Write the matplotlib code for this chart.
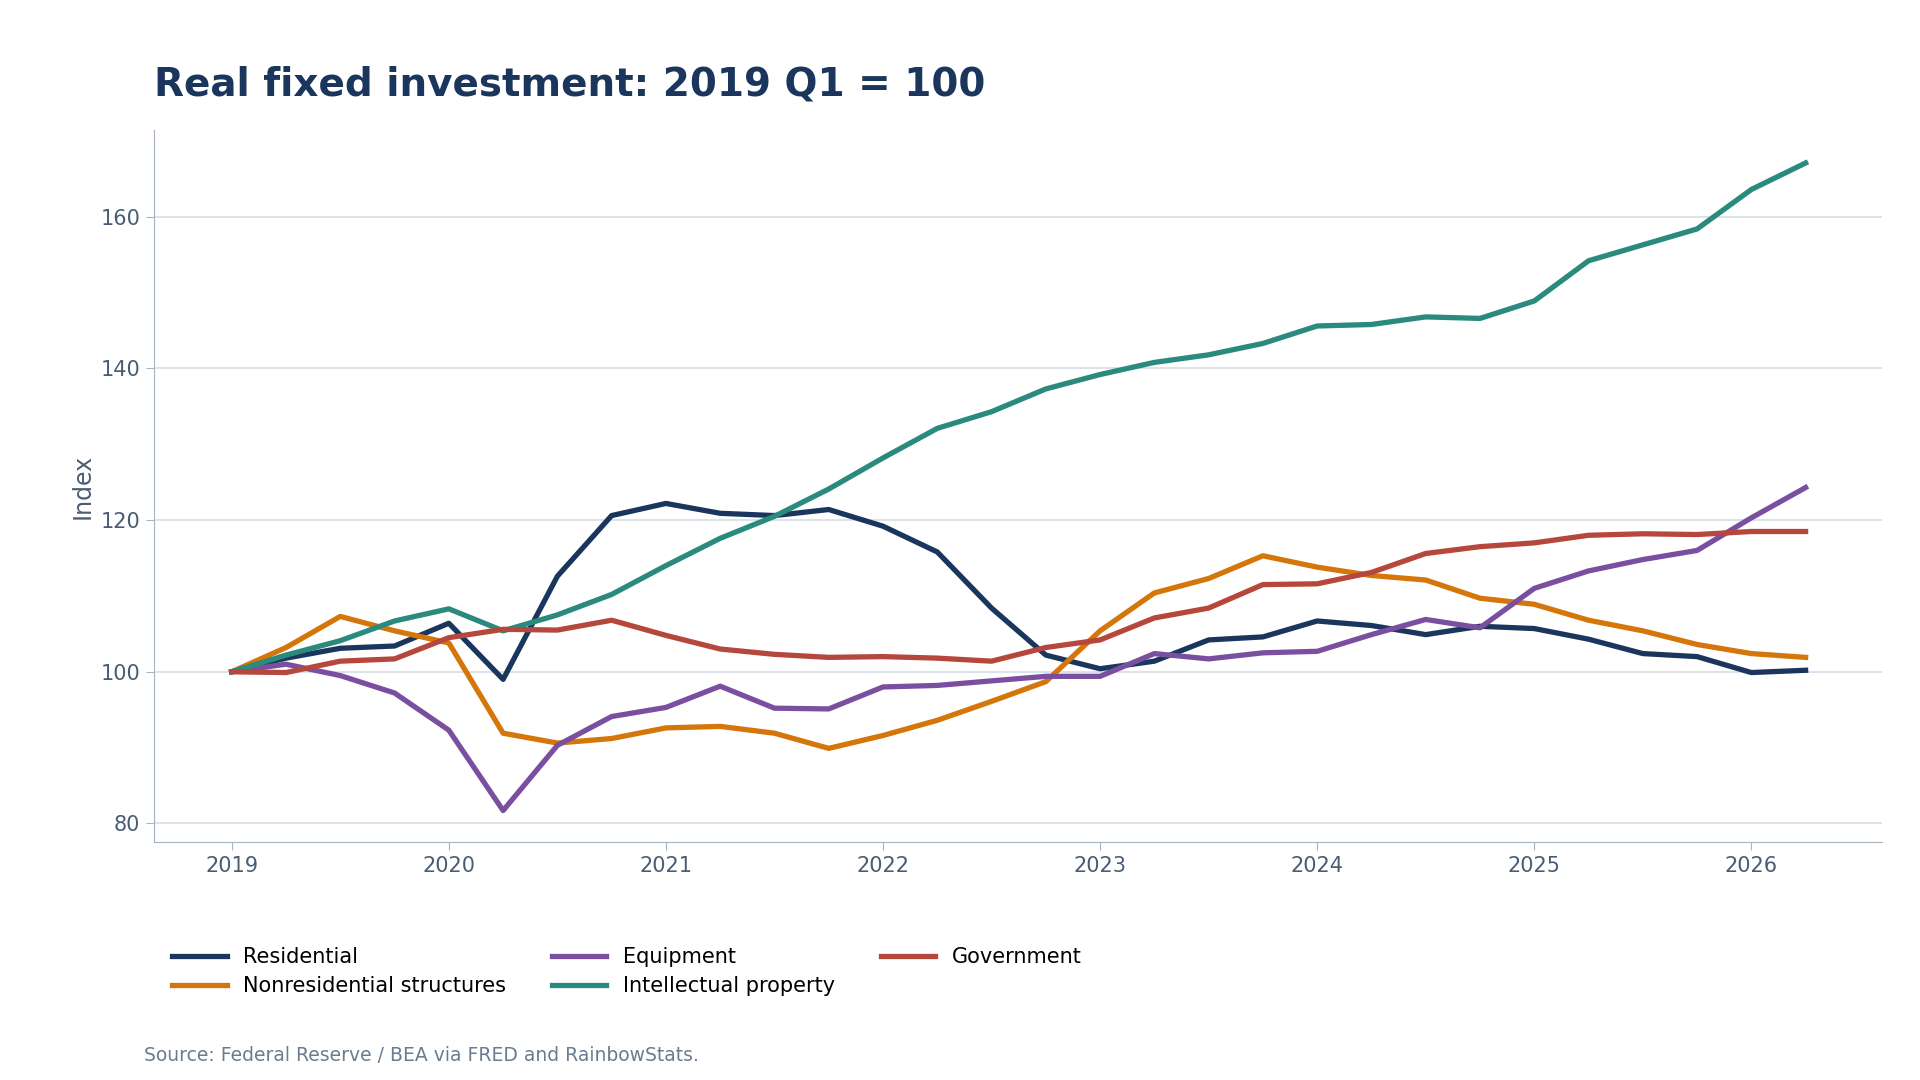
import matplotlib
matplotlib.use("Agg")
import matplotlib.pyplot as plt
import numpy as np

years = [2019 + i * 0.25 for i in range(30)]
residential = [100, 101.8, 103.1, 103.4, 106.4, 99, 112.6, 120.6, 122.2, 120.9, 120.6, 121.4, 119.2, 115.8, 108.4, 102.2, 100.4, 101.4, 104.2, 104.6, 106.7, 106.1, 104.9, 106.0, 105.7, 104.3, 102.4, 102.0, 99.9, 100.2]
nonres = [100, 103.2, 107.3, 105.4, 103.8, 91.9, 90.6, 91.2, 92.6, 92.8, 91.9, 89.9, 91.6, 93.6, 96.1, 98.7, 105.4, 110.4, 112.3, 115.3, 113.8, 112.7, 112.1, 109.7, 108.9, 106.8, 105.4, 103.6, 102.4, 101.9]
equipment = [100, 101, 99.5, 97.2, 92.3, 81.7, 90.3, 94.1, 95.3, 98.1, 95.2, 95.1, 98.0, 98.2, 98.8, 99.4, 99.4, 102.4, 101.7, 102.5, 102.7, 104.9, 106.9, 105.8, 111.0, 113.3, 114.8, 116.0, 120.3, 124.3]
ip = [100, 102.2, 104.1, 106.7, 108.3, 105.4, 107.5, 110.2, 114.0, 117.6, 120.5, 124.1, 128.2, 132.1, 134.3, 137.3, 139.2, 140.8, 141.8, 143.3, 145.6, 145.8, 146.8, 146.6, 148.9, 154.2, 156.3, 158.4, 163.6, 167.1]
government = [100, 99.9, 101.4, 101.7, 104.5, 105.6, 105.5, 106.8, 104.8, 103.0, 102.3, 101.9, 102.0, 101.8, 101.4, 103.2, 104.2, 107.1, 108.4, 111.5, 111.6, 113.1, 115.6, 116.5, 117.0, 118.0, 118.2, 118.1, 118.5, 118.5]

series = [("Residential", residential, "#1b365d"),
          ("Nonresidential structures", nonres, "#d4760a"),
          ("Equipment", equipment, "#7b4fa0"),
          ("Intellectual property", ip, "#2a8a7e"),
          ("Government", government, "#b5473c")]

fig = plt.figure(figsize=(19.2, 10.8), dpi=100)
ax = fig.add_axes([0.08, 0.22, 0.90, 0.66])
for name, vals, c in series:
    ax.plot(years, vals, color=c, lw=3.8, label=name)

ax.set_xlim(2018.64, 2026.6)
ax.set_ylim(77.5, 171.5)
ax.set_xticks(range(2019, 2027))
ax.set_yticks([80, 100, 120, 140, 160])
ax.grid(axis="y", color="#d5dde6", lw=1.2)
ax.set_axisbelow(True)
for s in ["top", "right"]:
    ax.spines[s].set_visible(False)
for s in ["left", "bottom"]:
    ax.spines[s].set_color("#a8b4c0")
ax.tick_params(colors="#a8b4c0", labelcolor="#4a5d75", labelsize=15, length=6)
ax.set_ylabel("Index", fontsize=17, color="#4a5d75")

fig.text(0.08, 0.912, "Real fixed investment: 2019 Q1 = 100", fontsize=28,
         fontweight="bold", color="#1b365d")
h, l = ax.get_legend_handles_labels()
fig.legend(h, l, loc="lower left", bbox_to_anchor=(0.08, 0.06), ncol=3,
           frameon=False, fontsize=15, handlelength=2.6, columnspacing=2.2,
           labelspacing=0.45)
fig.text(0.075, 0.018, "Source: Federal Reserve / BEA via FRED and RainbowStats.",
         fontsize=13.5, color="#6b7c90")
fig.savefig("out.png", dpi=100)
